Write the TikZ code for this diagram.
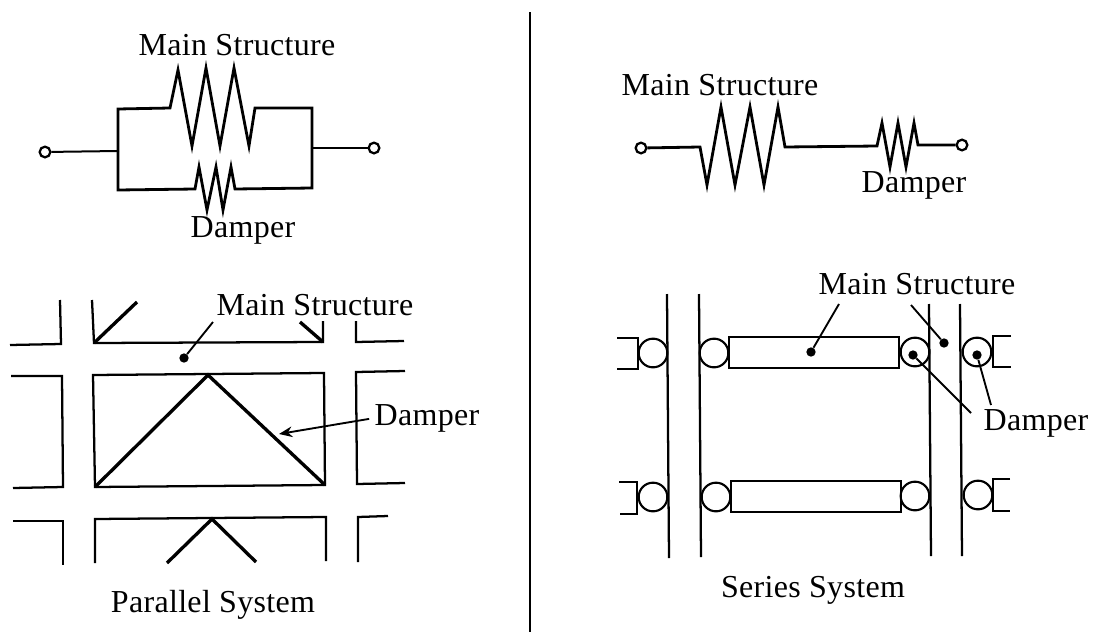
\documentclass[tikz,border=0pt]{standalone}
\usepackage{fontspec}
\setmainfont[LetterSpace=1]{Liberation Serif}
\usepackage{tikz}
\usetikzlibrary{arrows.meta}
\tikzset{
  labeltext/.style={inner sep=0pt, font=\fontsize{24}{28}\selectfont},
  frame/.style={line width=1.7pt, miter limit=10},
  wire/.style={line width=1.5pt},
  spring/.style={line width=2.1pt, line join=miter, miter limit=20},
  brace/.style={line width=2.5pt},
  terminal/.style={circle, draw=black, line width=1.7pt, fill=white, inner sep=0pt, minimum size=8pt},
  roller/.style={circle, draw=black, line width=1.6pt, inner sep=0pt, minimum size=21.5pt},
  tipdot/.style={circle, fill=black, inner sep=0pt, minimum size=7pt},
  leader/.style={line width=1.4pt},
  arrow/.style={line width=1.4pt,->,>={Stealth[length=10pt,width=8pt]}}
}
\begin{document}
\begin{tikzpicture}[x=0.75pt, y=-0.75pt]
        \useasboundingbox (0,0) rectangle (1097,632);
        \draw [wire] (530,12) -- (530,632);

        \node (mainA) [labeltext] at (237,45) {Main Structure};
        \node (damperA) [labeltext] at (243,230) {Damper};
        \node (termA) [terminal] at (45,152) {};
        \node (termB) [terminal] at (374,148) {};
        \coordinate (busA) at (118,151);
        \coordinate (busB) at (312,148);
        \draw [wire] (termA) -- (busA);
        \draw [wire] (busB) -- (termB);
        \draw [spring] (busA) -- (118,109) -- (170,108) -- (178,70) -- (192,146) -- (206,68) -- (220,146) -- (234,68) -- (249,146) -- (255,108) -- (312,108) -- (busB);
        \draw [spring] (busA) -- (118,190) -- (195,189) -- (199,167) -- (207,210) -- (216,167) -- (223,210) -- (231,167) -- (235,189) -- (312,188) -- (busB);

        \node (mainB) [labeltext] at (315,305) {Main Structure};
        \node (damperB) [labeltext] at (427,418) {Damper};
        \node (titleA) [labeltext] at (213,605) {Parallel System};
        \node (dotA) [tipdot] at (184,358) {};
        \coordinate (mainBfoot) at (213,322);
        \coordinate (braceA) at (279,434);
        \draw [frame] (10,345) -- (61,344) -- (60,300);
        \draw [frame] (92,300) -- (94,343) -- (323,342) -- (323,321);
        \draw [frame] (356,321) -- (356,342) -- (404,341);
        \draw [frame] (11,376) -- (62,376) -- (63,487) -- (13,488);
        \draw [frame] (93,375) -- (324,373) -- (325,485) -- (95,487) -- cycle;
        \draw [frame] (405,371) -- (356,372) -- (357,484) -- (405,483);
        \draw [frame] (13,521) -- (63,521) -- (63,565);
        \draw [frame] (95,563) -- (95,519) -- (326,517) -- (326,561);
        \draw [frame] (358,562) -- (358,517) -- (388,516);
        \draw [brace] (94,343) -- (137,302);
        \draw [brace] (300,322) -- (323,342);
        \draw [brace] (95,487) -- (208,375) -- (325,485);
        \draw [brace] (167,563) -- (212,519) -- (256,562);
        \draw [leader] (mainBfoot) -- (dotA);
        \draw [arrow, shorten <=4pt] (damperB.west) -- (braceA);

        \node (mainC) [labeltext] at (720,85) {Main Structure};
        \node (damperC) [labeltext] at (914,185) {Damper};
        \node (termC) [terminal] at (641,148) {};
        \node (termD) [terminal] at (962,145) {};
        \draw [spring] (termC) -- (700,147) -- (707,185) -- (721,107) -- (735,185) -- (750,107) -- (764,185) -- (778,107) -- (785,147) -- (877,146) -- (882,123) -- (890,167) -- (898,123) -- (906,167) -- (914,123) -- (918,145) -- (termD);

        \node (mainD) [labeltext] at (917,284) {Main Structure};
        \node (damperD) [labeltext] at (1036,423) {Damper};
        \node (titleB) [labeltext] at (813,590) {Series System};
        \draw [frame] (667,294) -- (669,558);
        \draw [frame] (699,294) -- (701,557);
        \draw [frame] (929,304) -- (931,556);
        \draw [frame] (960,304) -- (962,556);
        \node (rollerA) [roller] at (653,353) {};
        \node (rollerB) [roller] at (714,353) {};
        \node (rollerC) [roller] at (915,352) {};
        \node (rollerD) [roller] at (977,352) {};
        \node (rollerE) [roller] at (653,497) {};
        \node (rollerF) [roller] at (716,497) {};
        \node (rollerG) [roller] at (915,496) {};
        \node (rollerH) [roller] at (978,495) {};
        \draw [frame] (617,338) -- (638,338) -- (638,369) -- (617,369);
        \draw [frame] (1011,336) -- (993,336) -- (993,367) -- (1011,367);
        \draw [frame] (619,482) -- (637,482) -- (637,514) -- (620,514);
        \draw [frame] (1010,479) -- (993,479) -- (993,511) -- (1010,511);
        \draw [frame] (729,337) rectangle (899,368);
        \draw [frame] (731,481) rectangle (901,512);
        \node (dotB) [tipdot] at (811,352) {};
        \node (dotC) [tipdot] at (944,343) {};
        \node (dotD) [tipdot] at (913,355) {};
        \node (dotE) [tipdot] at (977,355) {};
        \coordinate (mainDleft) at (839,304);
        \coordinate (mainDright) at (911,305);
        \coordinate (damperDleft) at (971,413);
        \coordinate (damperDright) at (991,405);
        \draw [leader] (mainDleft) -- (dotB);
        \draw [leader] (mainDright) -- (dotC);
        \draw [leader] (damperDleft) -- (dotD);
        \draw [leader] (damperDright) -- (dotE);

    \end{tikzpicture}
\end{document}
